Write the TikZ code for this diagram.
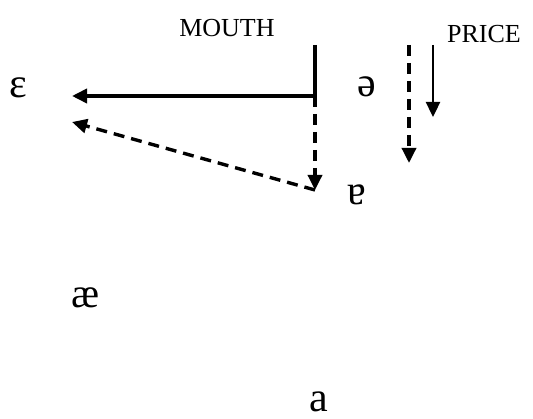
\documentclass[tikz,border=0pt]{standalone}
\usepackage{fontspec}
\setmainfont{Liberation Serif}
\usetikzlibrary{arrows.meta}
\begin{document}
\begin{tikzpicture}[x=1pt,y=-1pt,
  lbl/.style={font=\fontsize{26}{30}\selectfont, inner sep=0pt, anchor=base},
  vow/.style={font=\fontsize{42}{50}\selectfont, inner sep=0pt, anchor=base},
  tip/.style={-{Triangle[length=15pt,width=14pt]}},
  thick3/.style={line width=3.6pt},
  dsh/.style={line width=3.4pt, dash pattern=on 11pt off 7pt}]
\useasboundingbox (0,0) rectangle (533,419);
% labels
\node[lbl] (mouth) at (227,37) {MOUTH};
\node[lbl] (price) at (484,43) {PRICE};
% vowels
\node[vow] (eps) at (18,98) {ɛ};
\node[vow] (schwa) at (367,97) {ə};
\node[vow] (turna) at (357,205) {ɐ};
\node[vow] (ae) at (86,308) {æ};
\node[vow] (a) at (319,412) {a};
% points
\coordinate (mtop) at (315,45);
\coordinate (mcorner) at (315,96);
\coordinate (mbot) at (315,190);
\coordinate (eptip) at (72,96);
\coordinate (eptip2) at (72,122);
\coordinate (ptop1) at (409,45);
\coordinate (pbot1) at (409,163);
\coordinate (ptop2) at (433,45);
\coordinate (pbot2) at (433,117);
% MOUTH trajectory
\draw[thick3] (mtop) -- (mcorner);
\draw[thick3,tip] (mcorner) -- (eptip);
\draw[dsh,tip] (mcorner) -- (mbot);
\draw[dsh,tip] (mbot) -- (eptip2);
% PRICE trajectory
\draw[dsh,tip] (ptop1) -- (pbot1);
\draw[line width=2.4pt,tip] (ptop2) -- (pbot2);
\end{tikzpicture}
\end{document}
